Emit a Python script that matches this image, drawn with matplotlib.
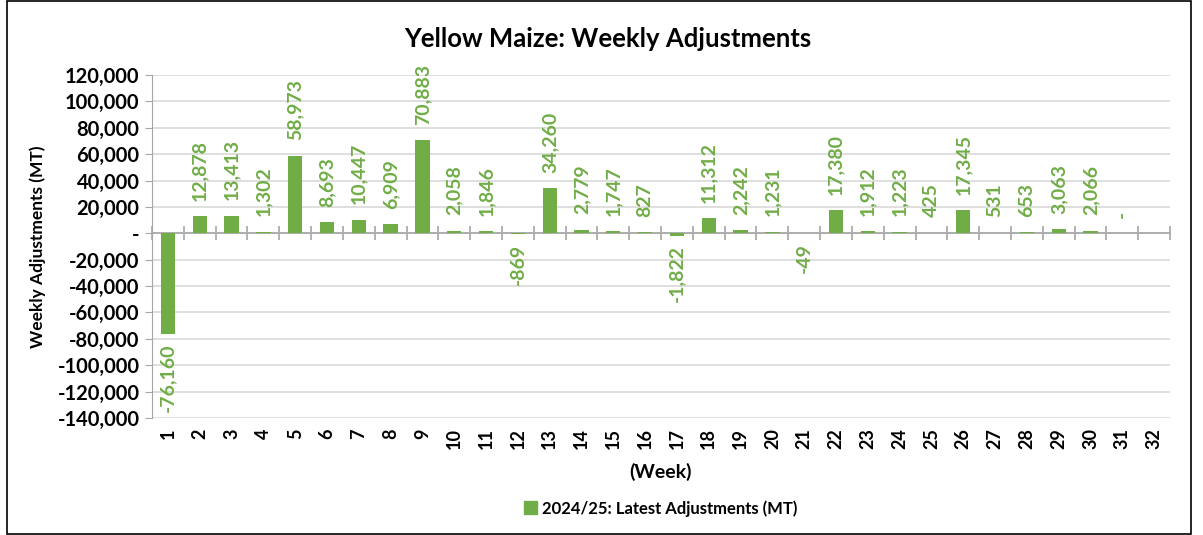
import matplotlib.pyplot as plt
import numpy as np
from matplotlib.patches import Rectangle, Patch
from matplotlib.transforms import blended_transform_factory

plt.rcParams['font.family'] = ['Lato', 'DejaVu Sans']

weeks = list(range(1, 33))
adjustments = [-76160, 12878, 13413, 1302, 58973, 8693, 10447, 6909, 70883, 2058,
               1846, -869, 34260, 2779, 1747, 827, -1822, 11312, 2242, 1231,
               -49, 17380, 1912, 1223, 425, 17345, 531, 653, 3063, 2066,
               0, np.nan]
yticks = list(range(-140000, 120001, 20000))

green = '#70AD47'

fig = plt.figure(figsize=(12.03, 5.35), dpi=100)
ax = fig.add_axes([0.1264, 0.2187, 0.8462, 0.6411])

x = np.arange(len(weeks))
vals = np.array(adjustments, dtype=float)
ax.bar(x, np.nan_to_num(vals), width=0.45, color=green, zorder=3)

for xi, v in zip(x, vals):
    if np.isnan(v):
        continue
    if v == 0:
        txt = '-'
    else:
        txt = f'{int(v):,}'
    if v >= 0:
        ax.annotate(txt, (xi, v), xytext=(0, 11), textcoords='offset points',
                    rotation=90, ha='center', va='bottom', color=green,
                    fontsize=14, fontweight='bold')
    else:
        ax.annotate(txt, (xi, v), xytext=(0, -7), textcoords='offset points',
                    rotation=90, ha='center', va='top', color=green,
                    fontsize=14, fontweight='bold')

ax.set_xlim(-0.5, len(weeks) - 0.5)
ax.set_ylim(-140000, 120000)
ax.set_yticks(yticks)
ax.set_yticklabels(['-' if t == 0 else f'{t:,}' for t in yticks],
                   fontsize=14.5, fontweight='bold')
ax.yaxis.grid(True, color='#D9D9D9', linewidth=1.2, zorder=0)
ax.tick_params(axis='y', length=5, color='#A6A6A6', pad=4)

# category axis sits on the zero line
ax.spines['bottom'].set_position(('data', 0))
ax.spines['bottom'].set_color('#A6A6A6')
ax.spines['bottom'].set_linewidth(1.2)
ax.spines['left'].set_color('#A6A6A6')
ax.spines['top'].set_visible(False)
ax.spines['right'].set_visible(False)
ax.set_xticks(x)
ax.set_xticklabels([])
ax.tick_params(axis='x', which='major', length=0)
ax.set_xticks(np.arange(len(weeks) + 1) - 0.5, minor=True)
ax.tick_params(axis='x', which='minor', length=10, direction='inout',
               color='#A6A6A6', width=1.2)

tr = blended_transform_factory(ax.transData, ax.transAxes)
for xi, w in zip(x, weeks):
    ax.text(xi, -0.03, str(w), transform=tr, rotation=90, ha='center', va='top',
            fontsize=13, fontweight='bold')

ax.set_ylabel('Weekly Adjustments (MT)', fontsize=12.5, fontweight='bold', labelpad=8)
fig.text(0.549, 0.118, '(Week)', ha='center', va='center', fontsize=14,
         fontweight='bold')
fig.suptitle('Yellow Maize: Weekly Adjustments', x=0.505, y=0.95,
             fontsize=18.5, fontweight='bold')

fig.legend(handles=[Patch(color=green, label='2024/25: Latest Adjustments (MT)')],
           loc='center', bbox_to_anchor=(0.549, 0.05), frameon=False,
           prop={'size': 12, 'weight': 'bold'}, handlelength=0.8,
           handleheight=0.8, handletextpad=0.3)

fig.add_artist(Rectangle((0.006, 0.002), 0.984, 0.996, transform=fig.transFigure,
                         fill=False, edgecolor='black', linewidth=1.2))

fig.savefig('out.png', dpi=100)
